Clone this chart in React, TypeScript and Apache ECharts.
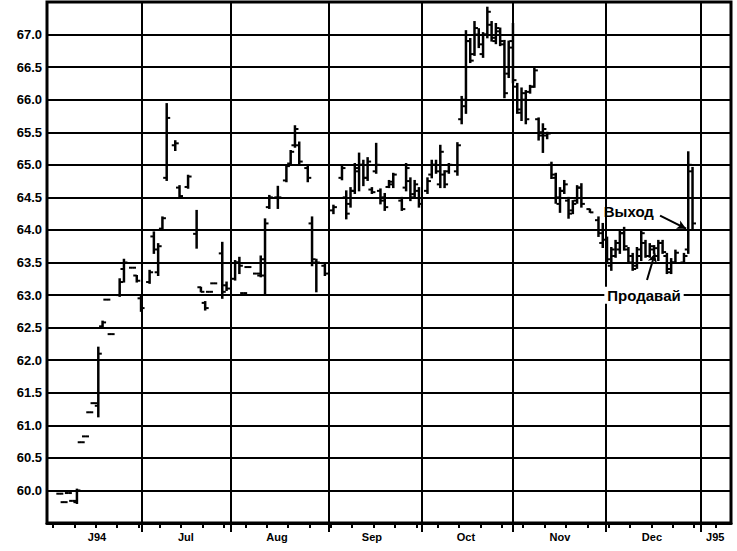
import { useEffect, useRef } from "react";
import * as echarts from "echarts";

// Trading-day index of each bar (x) and its OHLC prices
const days = [
  3, 4, 5, 6, 7, 8, 9, 10, 11, 12, 13, 14, 15, 17, 18, 20, 21, 22,
  24, 25, 26, 27, 28, 30, 31, 33, 35, 36, 37, 38, 39, 41, 42,
  44, 45, 46, 47, 49, 50, 51, 52, 54, 56, 57, 58, 59, 61, 62, 63, 65,
  67, 69, 70, 71, 72, 73, 74, 75, 76, 77, 78, 79, 80, 81, 83, 84, 85, 86, 87,
  89, 90, 91, 92, 93, 94, 96, 97, 98, 99, 100, 101, 102, 103, 104, 105, 106, 107, 108, 109,
  110, 111, 112, 113, 114, 115, 116, 117, 118, 119, 120, 121, 122, 123, 124, 125, 127, 129, 130,
  131, 132, 133, 134, 135, 136, 137, 138, 139, 140, 141, 142, 143, 144, 145, 146, 147, 149, 150, 151,
];
const opens = [
  59.95, 59.82, 59.96, 59.84, 59.82, 60.74, 60.83, 61.2, 61.34, 61.3, 62.52, 62.93, 62.4, 63.0, 63.4, 63.42, 63.3, 62.95,
  63.2, 63.9, 63.35, 64.02, 64.8, 65.3, 64.65, 64.66, 63.94, 63.12, 62.88, 63.05, 63.18, 63.64, 63.15,
  63.25, 63.5, 63.03, 63.43, 63.33, 63.3, 63.3, 64.35, 64.5, 64.76, 65.02, 65.3, 65.3, 64.95, 64.1, 63.5, 63.45,
  64.3, 64.8, 64.5, 64.4, 64.6, 64.9, 65.0, 64.8, 64.62, 64.9, 64.6, 64.5, 64.66, 64.7, 64.45, 64.65, 64.75, 64.55, 64.6,
  64.6, 64.85, 65.0, 64.7, 64.85, 64.9, 64.9, 65.7, 65.9, 66.9, 66.7, 67.0, 66.7, 67.0, 67.15, 66.9, 67.05, 66.85, 66.4, 66.9,
  66.2, 65.8, 66.0, 66.12, 66.2, 65.7, 65.5, 65.45, 65.0, 64.8, 64.4, 64.6, 64.45, 64.3, 64.45, 64.65, 64.32, 64.15, 63.8,
  63.85, 63.45, 63.6, 63.7, 63.95, 63.7, 63.6, 63.45, 63.6, 63.8, 63.6, 63.7, 63.6, 63.8, 63.6, 63.4, 63.5, 63.5, 63.7, 64.9,
];
const highs = [
  59.95, 59.82, 59.96, 59.84, 60.02, 60.74, 60.83, 61.2, 61.34, 62.2, 62.6, 62.93, 62.4, 63.25, 63.55, 63.42, 63.3, 63.0,
  63.38, 63.97, 63.79, 64.2, 65.94, 65.37, 64.68, 64.84, 64.3, 63.12, 62.9, 63.05, 63.18, 63.81, 63.2,
  63.53, 63.58, 63.03, 63.43, 63.33, 63.6, 64.17, 64.53, 64.67, 65.0, 65.22, 65.6, 65.35, 65.0, 64.2, 63.55, 63.5,
  64.38, 65.0, 64.6, 64.65, 65.02, 65.18, 65.07, 65.11, 64.65, 65.33, 64.63, 64.56, 64.76, 64.87, 64.5, 65.02, 64.8, 64.76, 64.65,
  64.8, 65.07, 65.07, 65.3, 64.91, 65.02, 65.34, 66.05, 67.06, 66.94, 67.2, 67.09, 67.03, 67.42, 67.2, 67.17, 67.1, 66.91, 66.9, 67.17,
  66.25, 66.18, 66.14, 66.22, 66.5, 65.72, 65.63, 65.5, 65.04, 64.87, 64.65, 64.76, 64.5, 64.45, 64.68, 64.71, 64.32, 64.2, 64.1,
  63.89, 63.73, 63.84, 64.0, 64.04, 63.73, 63.64, 63.73, 64.0, 63.84, 63.79, 63.76, 63.84, 63.84, 63.64, 63.56, 63.69, 63.64, 65.2, 64.96,
];
const lows = [
  59.95, 59.82, 59.96, 59.84, 59.8, 60.74, 60.83, 61.2, 61.34, 61.13, 62.5, 62.93, 62.4, 62.98, 63.2, 63.42, 63.2, 62.75,
  63.18, 63.64, 63.3, 64.0, 64.76, 65.22, 64.5, 64.64, 63.72, 63.05, 62.77, 63.05, 63.18, 62.95, 63.07,
  63.23, 63.33, 63.03, 63.43, 63.33, 63.28, 63.02, 64.33, 64.33, 64.74, 65.0, 65.27, 65.0, 64.74, 63.45, 63.05, 63.3,
  64.25, 64.77, 64.17, 64.35, 64.56, 64.6, 64.68, 64.76, 64.56, 64.87, 64.4, 64.3, 64.65, 64.65, 64.3, 64.6, 64.45, 64.5, 64.35,
  64.56, 64.8, 64.87, 64.65, 64.65, 64.87, 64.84, 65.63, 65.79, 66.57, 66.68, 66.8, 66.65, 66.95, 66.9, 66.86, 66.83, 66.03, 66.34, 66.26,
  65.79, 65.68, 65.63, 66.1, 66.19, 65.38, 65.19, 65.4, 64.79, 64.41, 64.27, 64.56, 64.18, 64.25, 64.41, 64.35, 64.27, 63.9, 63.73,
  63.49, 63.38, 63.58, 63.64, 63.69, 63.49, 63.38, 63.41, 63.53, 63.58, 63.58, 63.64, 63.53, 63.64, 63.33, 63.33, 63.49, 63.49, 63.64, 64.0,
];
const closes = [
  59.95, 59.82, 59.96, 59.84, 60.0, 60.74, 60.83, 61.2, 61.34, 62.1, 62.58, 62.93, 62.4, 63.2, 63.5, 63.42, 63.22, 62.8,
  63.35, 63.7, 63.75, 64.18, 65.72, 65.33, 64.52, 64.82, 64.0, 63.05, 62.8, 63.05, 63.18, 63.05, 63.1,
  63.5, 63.45, 63.03, 63.43, 63.33, 63.55, 64.1, 64.5, 64.5, 64.98, 65.2, 65.55, 65.05, 64.8, 63.55, 63.5, 63.33,
  64.35, 64.95, 64.25, 64.6, 64.95, 65.0, 64.8, 65.05, 64.58, 65.0, 64.45, 64.35, 64.74, 64.85, 64.32, 64.95, 64.5, 64.7, 64.4,
  64.75, 65.0, 64.9, 65.2, 64.7, 65.0, 65.3, 66.0, 66.9, 66.6, 67.1, 66.85, 67.0, 67.35, 66.95, 67.1, 66.9, 66.1, 66.8, 66.3,
  65.85, 66.1, 65.7, 66.2, 66.45, 65.45, 65.55, 65.48, 64.85, 64.5, 64.6, 64.7, 64.25, 64.4, 64.65, 64.4, 64.27, 63.95, 64.0,
  63.55, 63.7, 63.8, 63.95, 63.75, 63.5, 63.4, 63.7, 63.95, 63.6, 63.75, 63.72, 63.8, 63.66, 63.35, 63.5, 63.65, 63.6, 65.0, 64.1,
];

// Axis positions (in trading days)
const weekTicks = [
  1.4, 6.4, 11.4, 16.4, 21.4, 26.4, 31.4, 36.4, 41.4, 46.4, 51.4, 56.4, 61.4, 66.4, 71.4, 76.4,
  81.4, 86.4, 91.4, 96.4, 101.4, 106.4, 111.4, 116.4, 121.4, 126.4, 131.4, 136.4, 141.4, 146.4, 151.4, 156.4,
];
const monthLines = [22.2, 43.0, 66.0, 87.7, 109.0, 130.8, 153.0];
const monthLabels = ["J94", "Jul", "Aug", "Sep", "Oct", "Nov", "Dec", "J95"];
const monthLabelPos = [11.7, 32.5, 53.8, 76.0, 98.0, 120.0, 141.5, 156.3];

// Annotations (data coordinates)
const exitText = { label: "Выход", at: [136.1, 64.285] };
const sellText = { label: "Продавай", at: [139.65, 62.997] };
const exitArrow = [[143.4, 64.22], [149.5, 64.02]];
const sellArrow = [[140.35, 63.23], [142.2, 63.64]];

const FONT = "'Liberation Sans', Arial, sans-serif";

export default function App() {
  const ref = useRef<HTMLDivElement>(null);
  useEffect(() => {
    if (!ref.current) return;
    const chart = echarts.init(ref.current, null, { renderer: "svg" });
    const bars = days.map((d, i) => [d, opens[i], highs[i], lows[i], closes[i]]);
    chart.setOption({
      animation: false,
      backgroundColor: "#fff",
      textStyle: { fontFamily: FONT },
      grid: {
        left: 47, right: 6, top: 2, bottom: 28,
        show: true, borderColor: "#000", borderWidth: 3, backgroundColor: "transparent",
      },
      xAxis: [
        {
          type: "value", min: 0, max: 160,
          axisLine: { show: true, onZero: false, lineStyle: { color: "#000", width: 3 } },
          axisTick: { show: true, customValues: weekTicks, length: 5, lineStyle: { color: "#000", width: 2 } },
          axisLabel: {
            show: true, customValues: monthLabelPos, margin: 8,
            color: "#000", fontSize: 11, fontWeight: "bold", fontFamily: FONT,
            formatter: (v: number) => {
              const i = monthLabelPos.findIndex((p) => Math.abs(p - v) < 0.01);
              return i >= 0 ? monthLabels[i] : "";
            },
          },
          splitLine: { show: false },
        },
        {
          type: "value", min: 0, max: 160, position: "bottom",
          axisLine: { show: false, onZero: false },
          axisTick: { show: true, customValues: monthLines, length: 9, lineStyle: { color: "#000", width: 2 } },
          axisLabel: { show: false },
          splitLine: { show: false },
        },
      ],
      yAxis: {
        type: "value", min: 59.5, max: 67.5, interval: 0.5,
        axisLine: { show: false },
        axisTick: { show: false },
        axisLabel: {
          color: "#000", fontSize: 13, fontWeight: "bold", fontFamily: FONT, margin: 5,
          formatter: (v: number) => (v < 59.9 || v > 67.1 ? "" : v.toFixed(1)),
        },
        splitLine: { show: true, lineStyle: { color: "#000", width: 2 } },
      },
      series: [
        {
          type: "line", data: [], xAxisIndex: 0, silent: true,
          markLine: {
            silent: true, symbol: ["none", "none"], animation: false,
            label: { show: false },
            lineStyle: { color: "#000", width: 2, type: "solid" },
            data: monthLines.map((v) => ({ xAxis: v })),
          },
        },
        {
          type: "custom", xAxisIndex: 0, data: bars, clip: false, z: 5,
          renderItem: (_p: any, api: any) => {
            const x = api.value(0);
            const pO = api.coord([x, api.value(1)]);
            const pH = api.coord([x, api.value(2)]);
            const pL = api.coord([x, api.value(3)]);
            const pC = api.coord([x, api.value(4)]);
            const st = { stroke: "#000", lineWidth: 2.5 };
            return {
              type: "group",
              children: [
                { type: "line", shape: { x1: pH[0], y1: pH[1] - 0.5, x2: pL[0], y2: pL[1] + 0.5 }, style: st },
                { type: "line", shape: { x1: pO[0] - 3.5, y1: pO[1], x2: pO[0], y2: pO[1] }, style: { stroke: "#000", lineWidth: 2 } },
                { type: "line", shape: { x1: pC[0], y1: pC[1], x2: pC[0] + 3.5, y2: pC[1] }, style: { stroke: "#000", lineWidth: 2 } },
              ],
            };
          },
        },
        {
          type: "line", data: [], xAxisIndex: 0, silent: true, z: 6,
          markLine: {
            silent: true, animation: false,
            symbol: ["none", "arrow"], symbolSize: [7, 9],
            label: { show: false },
            lineStyle: { color: "#000", width: 2, type: "solid" },
            data: [
              [{ coord: exitArrow[0] }, { coord: exitArrow[1] }],
              [{ coord: sellArrow[0] }, { coord: sellArrow[1] }],
            ],
          },
          markPoint: {
            silent: true, animation: false,
            symbol: "circle", symbolSize: 1,
            itemStyle: { color: "transparent" },
            label: {
              show: true, position: "inside", color: "#000",
              fontSize: 15, fontWeight: "bold", fontFamily: FONT,
            },
            data: [
              { coord: exitText.at, value: exitText.label, label: { formatter: exitText.label } },
              {
                coord: sellText.at, value: sellText.label,
                label: { formatter: sellText.label, backgroundColor: "#fff", padding: [1, 3] },
              },
            ],
          },
        },
      ],
    });
    return () => chart.dispose();
  }, []);
  return (
    <div
      ref={ref}
      style={{ position: "fixed", left: 0, top: 0, width: 737, height: 551, background: "#fff" }}
    />
  );
}
